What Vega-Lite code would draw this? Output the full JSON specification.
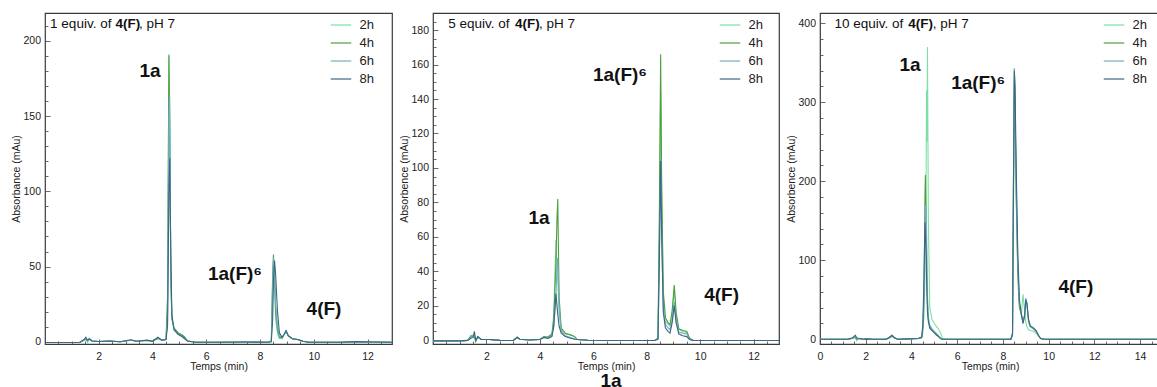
{
  "$schema": "https://vega.github.io/schema/vega-lite/v6.json",
  "padding": {"left": 11, "top": 12, "right": 0, "bottom": 0},
  "spacing": 41,
  "bounds": "flush",
  "config": {
    "font": "Liberation Sans",
    "view": {"stroke": "#3a3a3a", "strokeWidth": 1.2},
    "axis": {"grid": false, "domain": false, "labelFont": "Liberation Sans", "labelFontSize": 10.5, "labelColor": "#222", "titleFont": "Liberation Sans", "titleFontSize": 10.5, "titleFontWeight": "normal", "titleColor": "#222", "tickColor": "#444", "tickWidth": 0.8, "labelFlush": false, "labelOverlap": false, "labelBound": false, "titlePadding": 1},
    "axisX": {"titlePadding": -2},
    "legend": {"orient": "none", "legendY": 1, "title": null, "symbolType": "stroke", "symbolSize": 420, "symbolStrokeWidth": 1.2, "labelFontSize": 13, "labelFont": "Liberation Sans", "labelColor": "#222", "labelOffset": 7.5, "rowPadding": 0, "padding": 0},
    "text": {"font": "Liberation Sans", "color": "#111"}
  },
  "resolve": {"legend": {"color": "independent"}},
  "datasets": {
    "p1": [
      {"t":0,"2h":-0.5,"4h":-0.5,"6h":-0.5,"8h":-0.5},
      {"t":1.0,"2h":-0.5,"4h":-0.5,"6h":-0.5,"8h":-0.5},
      {"t":1.3,"2h":-0.3,"4h":-0.3,"6h":-0.3,"8h":-0.3},
      {"t":1.45,"2h":1.0,"4h":1.2,"6h":1.0,"8h":1.5},
      {"t":1.52,"2h":2.0,"4h":1.5,"6h":2.5,"8h":3.0},
      {"t":1.58,"2h":-0.5,"4h":1.0,"6h":0.5,"8h":1.0},
      {"t":1.65,"2h":1.5,"4h":1.8,"6h":2.0,"8h":2.0},
      {"t":1.75,"2h":0.5,"4h":0.5,"6h":0.5,"8h":0.5},
      {"t":2.0,"2h":0.2,"4h":0.2,"6h":0.2,"8h":0.2},
      {"t":2.4,"2h":0.5,"4h":0.5,"6h":0.5,"8h":0.5},
      {"t":2.8,"2h":0,"4h":0,"6h":0,"8h":0},
      {"t":3.2,"2h":1.0,"4h":1.0,"6h":1.2,"8h":1.3},
      {"t":3.4,"2h":0.3,"4h":0.3,"6h":0.3,"8h":0.3},
      {"t":3.8,"2h":0.8,"4h":0.8,"6h":1.0,"8h":1.1},
      {"t":4.0,"2h":0.3,"4h":0.3,"6h":0.3,"8h":0.3},
      {"t":4.2,"2h":2.0,"4h":2.2,"6h":2.5,"8h":3.0},
      {"t":4.35,"2h":1.0,"4h":1.0,"6h":1.0,"8h":1.0},
      {"t":4.5,"2h":1.5,"4h":1.5,"6h":1.5,"8h":1.5},
      {"t":4.56,"2h":20,"4h":30,"6h":15,"8h":10},
      {"t":4.61,"2h":190,"4h":191,"6h":150,"8h":100},
      {"t":4.64,"2h":150,"4h":140,"6h":163,"8h":122},
      {"t":4.68,"2h":40,"4h":45,"6h":50,"8h":60},
      {"t":4.72,"2h":15,"4h":16,"6h":16,"8h":18},
      {"t":4.8,"2h":9,"4h":9,"6h":8,"8h":8},
      {"t":4.95,"2h":6,"4h":6,"6h":5,"8h":5},
      {"t":5.1,"2h":4.5,"4h":4.5,"6h":3.5,"8h":3.5},
      {"t":5.2,"2h":3,"4h":3,"6h":2,"8h":2},
      {"t":5.3,"2h":0.5,"4h":0.5,"6h":0.5,"8h":0.5},
      {"t":5.6,"2h":-0.3,"4h":-0.3,"6h":-0.3,"8h":-0.3},
      {"t":6.5,"2h":-0.3,"4h":-0.3,"6h":-0.3,"8h":-0.3},
      {"t":7.5,"2h":-0.2,"4h":-0.2,"6h":-0.2,"8h":-0.2},
      {"t":8.3,"2h":-0.3,"4h":-0.3,"6h":-0.3,"8h":-0.3},
      {"t":8.42,"2h":0,"4h":0.5,"6h":0.3,"8h":0},
      {"t":8.47,"2h":30,"4h":45,"6h":40,"8h":15},
      {"t":8.5,"2h":52,"4h":58,"6h":56,"8h":40},
      {"t":8.54,"2h":40,"4h":42,"6h":45,"8h":54},
      {"t":8.58,"2h":15,"4h":20,"6h":25,"8h":45},
      {"t":8.65,"2h":5,"4h":8,"6h":10,"8h":20},
      {"t":8.72,"2h":2,"4h":3,"6h":4,"8h":6},
      {"t":8.82,"2h":2,"4h":2.5,"6h":3,"8h":3},
      {"t":8.9,"2h":5,"4h":5,"6h":5,"8h":5},
      {"t":8.97,"2h":6.5,"4h":7,"6h":7,"8h":7.5},
      {"t":9.05,"2h":4,"4h":4,"6h":4,"8h":4},
      {"t":9.2,"2h":2,"4h":2,"6h":2,"8h":2},
      {"t":9.4,"2h":1.5,"4h":1.5,"6h":1.5,"8h":1.5},
      {"t":9.6,"2h":0.3,"4h":0.3,"6h":0.3,"8h":0.3},
      {"t":9.8,"2h":-0.3,"4h":-0.3,"6h":-0.3,"8h":-0.3},
      {"t":11.0,"2h":-0.3,"4h":-0.3,"6h":-0.3,"8h":-0.3},
      {"t":11.6,"2h":0.1,"4h":0.1,"6h":0.1,"8h":0.1},
      {"t":12.2,"2h":-0.2,"4h":-0.2,"6h":-0.2,"8h":-0.2},
      {"t":12.91,"2h":-0.3,"4h":-0.3,"6h":-0.3,"8h":-0.3}
    ],
    "p2": [
      {"t":0,"2h":-0.5,"4h":-0.5,"6h":-0.5,"8h":-0.5},
      {"t":1.0,"2h":-0.5,"4h":-0.5,"6h":-0.5,"8h":-0.5},
      {"t":1.3,"2h":-0.2,"4h":-0.2,"6h":-0.2,"8h":-0.2},
      {"t":1.42,"2h":2,"4h":2.5,"6h":1.5,"8h":1},
      {"t":1.5,"2h":3,"4h":2,"6h":2,"8h":1.5},
      {"t":1.55,"2h":1.5,"4h":1.5,"6h":3,"8h":5},
      {"t":1.6,"2h":-1,"4h":0,"6h":0.5,"8h":-0.5},
      {"t":1.68,"2h":2,"4h":2,"6h":1.5,"8h":2},
      {"t":1.8,"2h":0.3,"4h":0.3,"6h":0.3,"8h":0.3},
      {"t":2.1,"2h":0.3,"4h":0.3,"6h":0.3,"8h":0.3},
      {"t":2.5,"2h":-0.2,"4h":-0.2,"6h":-0.2,"8h":-0.2},
      {"t":3.0,"2h":-0.3,"4h":-0.3,"6h":-0.3,"8h":-0.3},
      {"t":3.15,"2h":1.5,"4h":1.8,"6h":1.5,"8h":1.5},
      {"t":3.25,"2h":0.5,"4h":0.5,"6h":0.5,"8h":0.5},
      {"t":3.6,"2h":0,"4h":0,"6h":0,"8h":0},
      {"t":4.0,"2h":0.3,"4h":0.3,"6h":0.3,"8h":0.3},
      {"t":4.15,"2h":1.8,"4h":2,"6h":1.5,"8h":1.5},
      {"t":4.3,"2h":1.5,"4h":1.8,"6h":1.2,"8h":1.0},
      {"t":4.45,"2h":3,"4h":3.5,"6h":2.5,"8h":2},
      {"t":4.52,"2h":15,"4h":12,"6h":8,"8h":8},
      {"t":4.6,"2h":58,"4h":45,"6h":25,"8h":27},
      {"t":4.64,"2h":40,"4h":70,"6h":42,"8h":20},
      {"t":4.67,"2h":35,"4h":82,"6h":48,"8h":15},
      {"t":4.72,"2h":15,"4h":25,"6h":20,"8h":8},
      {"t":4.8,"2h":6,"4h":7,"6h":5,"8h":4},
      {"t":4.95,"2h":3.5,"4h":4,"6h":2.5,"8h":2},
      {"t":5.15,"2h":3,"4h":3,"6h":1.5,"8h":1},
      {"t":5.3,"2h":2,"4h":2,"6h":0.8,"8h":0.5},
      {"t":5.4,"2h":0.3,"4h":0.3,"6h":0.3,"8h":0.3},
      {"t":5.8,"2h":-0.1,"4h":-0.1,"6h":-0.1,"8h":-0.1},
      {"t":6.5,"2h":-0.3,"4h":-0.3,"6h":-0.3,"8h":-0.3},
      {"t":7.5,"2h":-0.3,"4h":-0.3,"6h":-0.3,"8h":-0.3},
      {"t":8.3,"2h":-0.3,"4h":-0.3,"6h":-0.3,"8h":-0.3},
      {"t":8.42,"2h":1,"4h":1,"6h":0.5,"8h":0.5},
      {"t":8.47,"2h":60,"4h":70,"6h":45,"8h":45},
      {"t":8.52,"2h":144,"4h":166,"6h":106,"8h":104},
      {"t":8.56,"2h":80,"4h":90,"6h":60,"8h":60},
      {"t":8.62,"2h":25,"4h":28,"6h":18,"8h":16},
      {"t":8.7,"2h":11,"4h":13,"6h":9,"8h":7},
      {"t":8.8,"2h":9,"4h":10,"6h":7,"8h":5},
      {"t":8.87,"2h":8,"4h":9,"6h":6,"8h":4},
      {"t":8.95,"2h":15,"4h":17,"6h":11,"8h":10},
      {"t":9.03,"2h":29,"4h":32,"6h":22,"8h":20},
      {"t":9.1,"2h":15,"4h":16,"6h":12,"8h":10},
      {"t":9.2,"2h":6,"4h":6.5,"6h":4.5,"8h":3.5},
      {"t":9.35,"2h":5,"4h":5.5,"6h":4,"8h":2.5},
      {"t":9.5,"2h":4.5,"4h":5,"6h":3.5,"8h":2},
      {"t":9.6,"2h":1,"4h":1,"6h":0.5,"8h":0.3},
      {"t":9.75,"2h":-0.3,"4h":-0.3,"6h":-0.3,"8h":-0.3},
      {"t":11.0,"2h":-0.3,"4h":-0.3,"6h":-0.3,"8h":-0.3},
      {"t":12.0,"2h":-0.3,"4h":-0.3,"6h":-0.3,"8h":-0.3},
      {"t":12.95,"2h":-0.3,"4h":-0.3,"6h":-0.3,"8h":-0.3}
    ],
    "p3": [
      {"t":0,"2h":0,"4h":0,"6h":0,"8h":0},
      {"t":1.2,"2h":0,"4h":0,"6h":0,"8h":0},
      {"t":1.4,"2h":1,"4h":1,"6h":1,"8h":1.5},
      {"t":1.5,"2h":2.5,"4h":2,"6h":3,"8h":4},
      {"t":1.55,"2h":2,"4h":2,"6h":3,"8h":5},
      {"t":1.6,"2h":-2,"4h":0,"6h":1,"8h":2},
      {"t":1.7,"2h":1,"4h":1,"6h":1,"8h":1},
      {"t":1.9,"2h":0,"4h":0,"6h":0,"8h":0},
      {"t":2.0,"2h":0.5,"4h":0.5,"6h":0.5,"8h":0.5},
      {"t":2.3,"2h":0,"4h":0,"6h":0,"8h":0},
      {"t":2.9,"2h":0,"4h":0,"6h":0,"8h":0},
      {"t":3.05,"2h":2,"4h":2,"6h":3,"8h":3},
      {"t":3.15,"2h":4,"4h":4,"6h":5,"8h":5},
      {"t":3.25,"2h":2,"4h":2,"6h":2,"8h":2},
      {"t":3.4,"2h":0,"4h":0,"6h":0,"8h":0},
      {"t":3.9,"2h":0.5,"4h":0.5,"6h":0.5,"8h":0.5},
      {"t":4.3,"2h":1,"4h":1,"6h":1,"8h":1},
      {"t":4.45,"2h":2,"4h":2,"6h":3,"8h":3},
      {"t":4.5,"2h":8,"4h":15,"6h":15,"8h":20},
      {"t":4.55,"2h":30,"4h":60,"6h":50,"8h":80},
      {"t":4.59,"2h":80,"4h":180,"6h":150,"8h":148},
      {"t":4.61,"2h":120,"4h":208,"6h":168,"8h":135},
      {"t":4.64,"2h":200,"4h":160,"6h":170,"8h":110},
      {"t":4.66,"2h":315,"4h":110,"6h":140,"8h":80},
      {"t":4.68,"2h":250,"4h":70,"6h":90,"8h":55},
      {"t":4.7,"2h":370,"4h":45,"6h":55,"8h":35},
      {"t":4.74,"2h":150,"4h":25,"6h":28,"8h":22},
      {"t":4.8,"2h":40,"4h":16,"6h":18,"8h":14},
      {"t":4.9,"2h":25,"4h":12,"6h":13,"8h":11},
      {"t":5.0,"2h":20,"4h":9,"6h":10,"8h":8},
      {"t":5.1,"2h":16,"4h":6,"6h":7,"8h":5},
      {"t":5.2,"2h":12,"4h":3,"6h":4,"8h":3},
      {"t":5.28,"2h":8,"4h":1,"6h":1,"8h":1},
      {"t":5.35,"2h":1,"4h":0,"6h":0,"8h":0},
      {"t":5.6,"2h":0,"4h":0,"6h":0,"8h":0},
      {"t":6.5,"2h":0,"4h":0,"6h":0,"8h":0},
      {"t":7.5,"2h":0,"4h":0,"6h":0,"8h":0},
      {"t":8.35,"2h":0,"4h":0,"6h":0,"8h":0},
      {"t":8.42,"2h":5,"4h":8,"6h":6,"8h":6},
      {"t":8.46,"2h":150,"4h":200,"6h":180,"8h":190},
      {"t":8.5,"2h":330,"4h":342,"6h":343,"8h":340},
      {"t":8.53,"2h":300,"4h":290,"6h":300,"8h":320},
      {"t":8.58,"2h":200,"4h":180,"6h":190,"8h":220},
      {"t":8.65,"2h":100,"4h":80,"6h":90,"8h":110},
      {"t":8.72,"2h":45,"4h":40,"6h":45,"8h":50},
      {"t":8.8,"2h":30,"4h":32,"6h":33,"8h":33},
      {"t":8.88,"2h":57,"4h":22,"6h":20,"8h":20},
      {"t":8.95,"2h":35,"4h":30,"6h":32,"8h":30},
      {"t":9.0,"2h":22,"4h":50,"6h":52,"8h":50},
      {"t":9.05,"2h":16,"4h":45,"6h":45,"8h":45},
      {"t":9.12,"2h":12,"4h":22,"6h":24,"8h":25},
      {"t":9.2,"2h":11,"4h":16,"6h":16,"8h":17},
      {"t":9.35,"2h":10,"4h":13,"6h":13,"8h":14},
      {"t":9.45,"2h":8,"4h":11,"6h":10,"8h":11},
      {"t":9.55,"2h":4,"4h":5,"6h":5,"8h":5},
      {"t":9.65,"2h":1,"4h":1,"6h":1,"8h":1},
      {"t":9.8,"2h":0,"4h":0,"6h":0,"8h":0},
      {"t":12.0,"2h":0,"4h":0,"6h":0,"8h":0},
      {"t":14.87,"2h":0,"4h":0,"6h":0,"8h":0}
    ]
  },
  "hconcat": [
    {
      "width": 347, "height": 331,
      "layer": [
        {
          "data": {"name": "p1"},
          "transform": [{"fold": ["2h","4h","6h","8h"], "as": ["h","A"]}],
          "mark": {"type": "line", "strokeWidth": 1.1, "clip": true},
          "encoding": {
            "x": {"field": "t", "type": "quantitative", "scale": {"domain": [0, 12.91], "nice": false, "zero": false},
              "axis": {"title": "Temps (min)", "tickCount": 200, "format": "~g", "values": [0.5,1,1.5,2,2.5,3,3.5,4,4.5,5,5.5,6,6.5,7,7.5,8,8.5,9,9.5,10,10.5,11,11.5,12,12.5],
                "labelExpr": "datum.value % 2 == 0 ? datum.label : ''", "labelOverlap": false,
                "tickSize": {"condition": {"test": "datum.value % 2 == 0", "value": -5}, "value": -3}, "labelPadding": 12}},
            "y": {"field": "A", "type": "quantitative", "scale": {"domain": [-1.5, 218.6], "nice": false, "zero": false},
              "axis": {"title": "Absorbance (mAu)", "tickCount": 200, "format": "~g", "values": [0,10,20,30,40,50,60,70,80,90,100,110,120,130,140,150,160,170,180,190,200,210],
                "labelExpr": "datum.value % 50 == 0 ? datum.label : ''", "labelOverlap": false,
                "tickSize": {"condition": {"test": "datum.value % 50 == 0", "value": -5}, "value": -3}, "labelPadding": 9.5}},
            "color": {"field": "h", "type": "nominal", "scale": {"domain": ["2h","4h","6h","8h"], "range": ["#7ddfa3","#4e9e3f","#74adc2","#3b6685"]}, "legend": {"legendX": 285}}
          }
        },
        {
          "data": {"values": [{"t":3.91,"A":180.2,"text":"1a"},{"t":7.07,"A":45,"text":"1a(F)⁶"},{"t":10.38,"A":22,"text":"4(F)"}]},
          "mark": {"type": "text", "fontWeight": "bold", "fontSize": 19, "align": "center", "baseline": "middle"},
          "encoding": {"x": {"field": "t", "type": "quantitative"}, "y": {"field": "A", "type": "quantitative"}, "text": {"field": "text"}}
        },
        {
          "data": {"values": [{"t":0.19,"A":208.4,"text":"1 equiv. of"},{"t":3.5,"A":208.4,"text":", pH 7"}]},
          "mark": {"type": "text", "fontSize": 13.5, "align": "left", "baseline": "alphabetic"},
          "encoding": {"x": {"field": "t", "type": "quantitative"}, "y": {"field": "A", "type": "quantitative"}, "text": {"field": "text"}}
        },
        {
          "data": {"values": [{"t":2.62,"A":208.4,"text":"4(F)"}]},
          "mark": {"type": "text", "fontSize": 13.5, "fontWeight": "bold", "align": "left", "baseline": "alphabetic"},
          "encoding": {"x": {"field": "t", "type": "quantitative"}, "y": {"field": "A", "type": "quantitative"}, "text": {"field": "text"}}
        }
      ]
    },
    {
      "width": 346, "height": 331,
      "layer": [
        {
          "data": {"name": "p2"},
          "transform": [{"fold": ["2h","4h","6h","8h"], "as": ["h","A"]}],
          "mark": {"type": "line", "strokeWidth": 1.1, "clip": true},
          "encoding": {
            "x": {"field": "t", "type": "quantitative", "scale": {"domain": [0, 12.95], "nice": false, "zero": false},
              "axis": {"title": "Temps (min)", "tickCount": 200, "format": "~g", "values": [0.5,1,1.5,2,2.5,3,3.5,4,4.5,5,5.5,6,6.5,7,7.5,8,8.5,9,9.5,10,10.5,11,11.5,12,12.5],
                "labelExpr": "datum.value % 2 == 0 ? datum.label : ''", "labelOverlap": false,
                "tickSize": {"condition": {"test": "datum.value % 2 == 0", "value": -5}, "value": -3}, "labelPadding": 12}},
            "y": {"field": "A", "type": "quantitative", "scale": {"domain": [-2.3, 190], "nice": false, "zero": false},
              "axis": {"title": "Absorbence (mAu)", "tickCount": 200, "format": "~g", "values": [0,5,10,15,20,25,30,35,40,45,50,55,60,65,70,75,80,85,90,95,100,105,110,115,120,125,130,135,140,145,150,155,160,165,170,175,180,185],
                "labelExpr": "datum.value % 20 == 0 ? datum.label : ''", "labelOverlap": false,
                "tickSize": {"condition": {"test": "datum.value % 20 == 0", "value": -5}, "value": -3}, "labelPadding": 9.5}},
            "color": {"field": "h", "type": "nominal", "scale": {"domain": ["2h","4h","6h","8h"], "range": ["#7ddfa3","#4e9e3f","#74adc2","#3b6685"]}, "legend": {"legendX": 286}}
          }
        },
        {
          "data": {"values": [{"t":3.97,"A":71.1,"text":"1a"},{"t":7.0,"A":154,"text":"1a(F)⁶"},{"t":10.8,"A":26,"text":"4(F)"},{"t":6.66,"A":-23.8,"text":"1a"}]},
          "mark": {"type": "text", "fontWeight": "bold", "fontSize": 19, "align": "center", "baseline": "middle"},
          "encoding": {"x": {"field": "t", "type": "quantitative"}, "y": {"field": "A", "type": "quantitative"}, "text": {"field": "text"}}
        },
        {
          "data": {"values": [{"t":0.57,"A":181,"text":"5 equiv. of"},{"t":3.97,"A":181,"text":", pH 7"}]},
          "mark": {"type": "text", "fontSize": 13.5, "align": "left", "baseline": "alphabetic"},
          "encoding": {"x": {"field": "t", "type": "quantitative"}, "y": {"field": "A", "type": "quantitative"}, "text": {"field": "text"}}
        },
        {
          "data": {"values": [{"t":3.07,"A":181,"text":"4(F)"}]},
          "mark": {"type": "text", "fontSize": 13.5, "fontWeight": "bold", "align": "left", "baseline": "alphabetic"},
          "encoding": {"x": {"field": "t", "type": "quantitative"}, "y": {"field": "A", "type": "quantitative"}, "text": {"field": "text"}}
        }
      ]
    },
    {
      "width": 340, "height": 331,
      "layer": [
        {
          "data": {"name": "p3"},
          "transform": [{"fold": ["2h","4h","6h","8h"], "as": ["h","A"]}],
          "mark": {"type": "line", "strokeWidth": 1.1, "clip": true},
          "encoding": {
            "x": {"field": "t", "type": "quantitative", "scale": {"domain": [0, 14.87], "nice": false, "zero": false},
              "axis": {"title": "Temps (min)", "tickCount": 200, "format": "~g", "values": [0,0.5,1,1.5,2,2.5,3,3.5,4,4.5,5,5.5,6,6.5,7,7.5,8,8.5,9,9.5,10,10.5,11,11.5,12,12.5,13,13.5,14,14.5],
                "labelExpr": "datum.value % 2 == 0 ? datum.label : ''", "labelOverlap": false,
                "tickSize": {"condition": {"test": "datum.value % 2 == 0", "value": -5}, "value": -3}, "labelPadding": 12}},
            "y": {"field": "A", "type": "quantitative", "scale": {"domain": [-6, 413], "nice": false, "zero": false},
              "axis": {"title": "Absorbence (mAu)", "tickCount": 200, "format": "~g", "values": [0,20,40,60,80,100,120,140,160,180,200,220,240,260,280,300,320,340,360,380,400],
                "labelExpr": "datum.value % 100 == 0 ? datum.label : ''", "labelOverlap": false,
                "tickSize": {"condition": {"test": "datum.value % 100 == 0", "value": -5}, "value": -3}, "labelPadding": 9.5}},
            "color": {"field": "h", "type": "nominal", "scale": {"domain": ["2h","4h","6h","8h"], "range": ["#7ddfa3","#4e9e3f","#74adc2","#3b6685"]}, "legend": {"legendX": 283}}
          }
        },
        {
          "data": {"values": [{"t":3.94,"A":347,"text":"1a"},{"t":6.92,"A":324.8,"text":"1a(F)⁶"},{"t":11.19,"A":66.7,"text":"4(F)"}]},
          "mark": {"type": "text", "fontWeight": "bold", "fontSize": 19, "align": "center", "baseline": "middle"},
          "encoding": {"x": {"field": "t", "type": "quantitative"}, "y": {"field": "A", "type": "quantitative"}, "text": {"field": "text"}}
        },
        {
          "data": {"values": [{"t":0.63,"A":394.4,"text":"10 equiv. of"},{"t":4.93,"A":394.4,"text":", pH 7"}]},
          "mark": {"type": "text", "fontSize": 13.5, "align": "left", "baseline": "alphabetic"},
          "encoding": {"x": {"field": "t", "type": "quantitative"}, "y": {"field": "A", "type": "quantitative"}, "text": {"field": "text"}}
        },
        {
          "data": {"values": [{"t":3.86,"A":394.4,"text":"4(F)"}]},
          "mark": {"type": "text", "fontSize": 13.5, "fontWeight": "bold", "align": "left", "baseline": "alphabetic"},
          "encoding": {"x": {"field": "t", "type": "quantitative"}, "y": {"field": "A", "type": "quantitative"}, "text": {"field": "text"}}
        }
      ]
    }
  ]
}
